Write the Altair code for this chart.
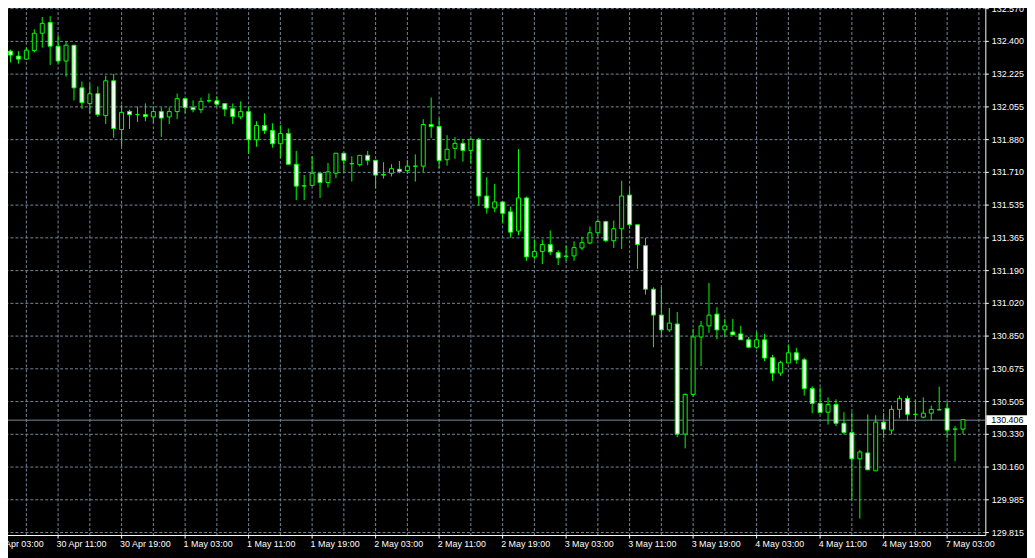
import altair as alt
import pandas as pd

# ---------------- data (USDJPY-like H1 candles) ----------------
opens = [132.271, 132.344, 132.318, 132.302, 132.347, 132.438, 132.495, 132.370, 132.292, 132.375,
         132.151, 132.068, 132.120, 132.005, 132.188, 131.932, 132.027, 132.010, 132.010, 131.998,
         132.026, 131.998, 132.026, 132.094, 132.048, 132.036, 132.083, 132.083, 132.068, 132.041,
         131.998, 132.026, 131.878, 131.953, 131.927, 131.857, 131.911, 131.749, 131.636, 131.638,
         131.702, 131.653, 131.702, 131.807, 131.752, 131.747, 131.796, 131.770, 131.692, 131.702,
         131.723, 131.716, 131.739, 131.739, 131.958, 131.948, 131.773, 131.833, 131.859, 131.822,
         131.880, 131.582, 131.519, 131.551, 131.499, 131.398, 131.572, 131.262, 131.290, 131.327,
         131.285, 131.266, 131.267, 131.309, 131.335, 131.389, 131.448, 131.347, 131.410, 131.587,
         131.431, 131.321, 131.092, 130.956, 130.878, 130.909, 130.330, 130.539, 130.841, 130.899,
         130.961, 130.878, 130.867, 130.857, 130.826, 130.787, 130.826, 130.732, 130.651, 130.704,
         130.758, 130.721, 130.570, 130.492, 130.445, 130.486, 130.387, 130.338, 130.200, 130.231,
         130.137, 130.393, 130.351, 130.460, 130.518, 130.434, 130.419, 130.440, 130.458, 130.466,
         130.356, 130.356]
highs = [132.349, 132.352, 132.344, 132.363, 132.459, 132.523, 132.528, 132.428, 132.396, 132.375,
         132.184, 132.173, 132.158, 132.215, 132.224, 132.062, 132.036, 132.052, 132.069, 132.053,
         132.048, 132.048, 132.121, 132.094, 132.085, 132.100, 132.121, 132.106, 132.068, 132.069,
         132.080, 132.052, 131.975, 132.017, 131.965, 131.954, 131.937, 131.819, 131.693, 131.791,
         131.702, 131.756, 131.807, 131.807, 131.791, 131.796, 131.819, 131.770, 131.760, 131.749,
         131.766, 131.772, 131.801, 131.986, 132.100, 131.991, 131.902, 131.892, 131.880, 131.885,
         131.888, 131.681, 131.646, 131.551, 131.526, 131.829, 131.579, 131.354, 131.354, 131.401,
         131.297, 131.321, 131.344, 131.368, 131.422, 131.460, 131.453, 131.453, 131.662, 131.624,
         131.431, 131.361, 131.102, 131.102, 130.993, 130.972, 130.544, 130.883, 130.925, 131.125,
         130.998, 130.935, 130.935, 130.899, 130.841, 130.867, 130.857, 130.747, 130.716, 130.800,
         130.784, 130.731, 130.582, 130.575, 130.523, 130.513, 130.445, 130.445, 130.246, 130.434,
         130.429, 130.440, 130.481, 130.533, 130.533, 130.507, 130.523, 130.481, 130.580, 130.502,
         130.372, 130.410]
lows = [132.227, 132.285, 132.278, 132.300, 132.337, 132.363, 132.271, 132.279, 132.210, 132.085,
        132.041, 132.018, 131.998, 131.961, 131.888, 131.843, 131.935, 131.972, 131.975, 131.966,
        131.893, 131.961, 131.986, 132.018, 132.022, 132.018, 132.073, 132.052, 132.001, 131.961,
        131.986, 131.805, 131.841, 131.909, 131.836, 131.784, 131.749, 131.561, 131.561, 131.638,
        131.572, 131.627, 131.676, 131.709, 131.658, 131.737, 131.744, 131.622, 131.674, 131.685,
        131.702, 131.699, 131.658, 131.709, 131.888, 131.728, 131.742, 131.778, 131.763, 131.754,
        131.532, 131.490, 131.497, 131.439, 131.363, 131.375, 131.241, 131.248, 131.224, 131.271,
        131.219, 131.241, 131.241, 131.298, 131.328, 131.371, 131.339, 131.309, 131.304, 131.410,
        131.199, 131.064, 130.787, 130.839, 130.867, 130.314, 130.255, 130.528, 130.688, 130.862,
        130.829, 130.841, 130.852, 130.826, 130.782, 130.779, 130.714, 130.610, 130.636, 130.704,
        130.700, 130.532, 130.440, 130.444, 130.380, 130.372, 130.328, 129.986, 129.886, 130.142,
        130.137, 130.309, 130.330, 130.413, 130.398, 130.403, 130.413, 130.403, 130.455, 130.309,
        130.187, 130.330]
closes = [132.344, 132.323, 132.302, 132.349, 132.438, 132.490, 132.370, 132.292, 132.375, 132.151,
          132.073, 132.120, 132.010, 132.188, 131.937, 132.022, 132.010, 132.010, 132.000, 132.026,
          131.992, 132.026, 132.094, 132.047, 132.036, 132.080, 132.083, 132.065, 132.039, 132.000,
          132.026, 131.878, 131.953, 131.927, 131.857, 131.911, 131.749, 131.634, 131.635, 131.702,
          131.653, 131.709, 131.807, 131.770, 131.752, 131.796, 131.770, 131.692, 131.695, 131.726,
          131.711, 131.739, 131.739, 131.958, 131.948, 131.768, 131.828, 131.859, 131.822, 131.880,
          131.582, 131.519, 131.551, 131.491, 131.392, 131.572, 131.262, 131.290, 131.327, 131.288,
          131.257, 131.265, 131.311, 131.337, 131.389, 131.448, 131.347, 131.410, 131.582, 131.431,
          131.327, 131.092, 130.956, 130.878, 130.914, 130.330, 130.539, 130.841, 130.899, 130.956,
          130.878, 130.899, 130.852, 130.826, 130.787, 130.826, 130.730, 130.651, 130.706, 130.758,
          130.720, 130.569, 130.491, 130.444, 130.486, 130.387, 130.338, 130.200, 130.236, 130.142,
          130.393, 130.356, 130.460, 130.518, 130.434, 130.434, 130.440, 130.460, 130.458, 130.351,
          130.356, 130.406]

price_labels = ["132.570", "132.400", "132.225", "132.055", "131.880", "131.710", "131.535",
                "131.365", "131.190", "131.020", "130.850", "130.675", "130.505", "130.330",
                "130.160", "129.985", "129.815"]
time_labels = ["30 Apr 03:00", "30 Apr 11:00", "30 Apr 19:00", "1 May 03:00", "1 May 11:00",
               "1 May 19:00", "2 May 03:00", "2 May 11:00", "2 May 19:00", "3 May 03:00",
               "3 May 11:00", "3 May 19:00", "4 May 03:00", "4 May 11:00", "4 May 19:00",
               "7 May 03:00"]
first_label_bar = -1      # bar index at which the first time label sits
bars_per_label = 8
first_grid_bar = 3
bars_per_grid = 4

# ---------------- layout ----------------
W, H = 993, 537            # plot area
BAR_PX = 8                 # pixels per bar
GRID_PX = 33               # pixels between price grid lines
TOP_GRID_PX = 6            # first price grid line from top

GREEN = "#00FF00"
GRIDC = "#778899"
FONT = "Liberation Sans"
FS = 9

n = len(opens)
df = pd.DataFrame({"i": list(range(n)), "o": opens, "h": highs, "l": lows, "c": closes})

p_top = float(price_labels[0])
p_bot = float(price_labels[-1])
step = (p_top - p_bot) / (len(price_labels) - 1)
tick_vals = [p_top - j * step for j in range(len(price_labels))]
ppu = GRID_PX / step
y_dom = [p_top - (H - TOP_GRID_PX) / ppu, p_top + TOP_GRID_PX / ppu]
x_dom = [-0.25, -0.25 + W / BAR_PX]

xs = alt.Scale(domain=x_dom, nice=False, zero=False)
ys = alt.Scale(domain=y_dom, nice=False, zero=False)

label_bars = [first_label_bar + bars_per_label * j for j in range(len(time_labels))]
grid_bars = list(range(first_grid_bar, n + 2, bars_per_grid))

lab_arr = "[" + ",".join("'" + s + "'" for s in price_labels) + "]"
y_label_expr = f"{lab_arr}[round(({p_top} - datum.value) / {step})]"

x_axis = alt.Axis(values=label_bars, labels=False, grid=False, ticks=True, tickColor="white",
                  tickSize=3, domainColor="white", domainWidth=1, title=None)
y_axis = alt.Axis(orient="right", values=tick_vals, labelExpr=y_label_expr, grid=True,
                  gridColor=GRIDC, gridDash=[3, 2], gridWidth=1, domainColor="white",
                  domainWidth=1, tickColor="white", tickSize=3, labelColor="white",
                  labelFont=FONT, labelFontSize=FS, labelPadding=3, labelAlign="left",
                  labelBaseline="middle", labelOverlap=False, labelFlush=False, title=None)


def X(field="i"):
    return alt.X(f"{field}:Q", scale=xs, axis=x_axis, title=None)


def Y(field):
    return alt.Y(f"{field}:Q", scale=ys, axis=y_axis, title=None)


grid_df = pd.DataFrame({"i": grid_bars})
xgrid = alt.Chart(grid_df).mark_rule(color=GRIDC, strokeDash=[3, 2], strokeWidth=1, xOffset=0.5).encode(
    x=X(), y=alt.value(0), y2=alt.value(H))

last_df = pd.DataFrame({"c": [closes[-1]]})
price_line = alt.Chart(last_df).mark_rule(color=GRIDC, strokeWidth=1, yOffset=0.5).encode(
    y=Y("c"), x=alt.value(0), x2=alt.value(W))

wicks = alt.Chart(df).mark_rule(color=GREEN, strokeWidth=1, xOffset=0.5).encode(
    x=X(), y=Y("h"), y2="l")

bodies = alt.Chart(df).mark_rect(stroke=GREEN, strokeWidth=1, xOffset=-1.5, x2Offset=2.5).encode(
    x=X(), x2="i", y=Y("o"), y2="c",
    fill=alt.condition("datum.c < datum.o", alt.value("white"), alt.value("black")))

tag_rect = alt.Chart(last_df).mark_rect(fill="white", yOffset=-4.5, y2Offset=5.5).encode(
    x=alt.value(W + 1), x2=alt.value(W + 60), y=Y("c"), y2="c")

tag_text = alt.Chart(last_df).mark_text(align="left", baseline="middle", color="black",
                                        font=FONT, fontSize=FS).encode(
    x=alt.value(999), y=Y("c"), text=alt.Text("c:Q", format=".3f"))

time_df = pd.DataFrame({"i": label_bars, "t": time_labels})
time_text = alt.Chart(time_df).mark_text(align="left", baseline="top", color="white",
                                         font=FONT, fontSize=FS, dx=-1).encode(
    x=X(), y=alt.value(H + 5), text="t:N")

chart = alt.layer(xgrid, price_line, wicks, bodies, tag_rect, tag_text, time_text).properties(
    width=W, height=H,
    padding={"left": -8, "top": -8, "right": 42, "bottom": 21},
    autosize=alt.AutoSizeParams(type="none"),
    background="black",
).configure_view(strokeWidth=0)

chart.save("out.html", embed_options={"renderer": "svg", "actions": False})
